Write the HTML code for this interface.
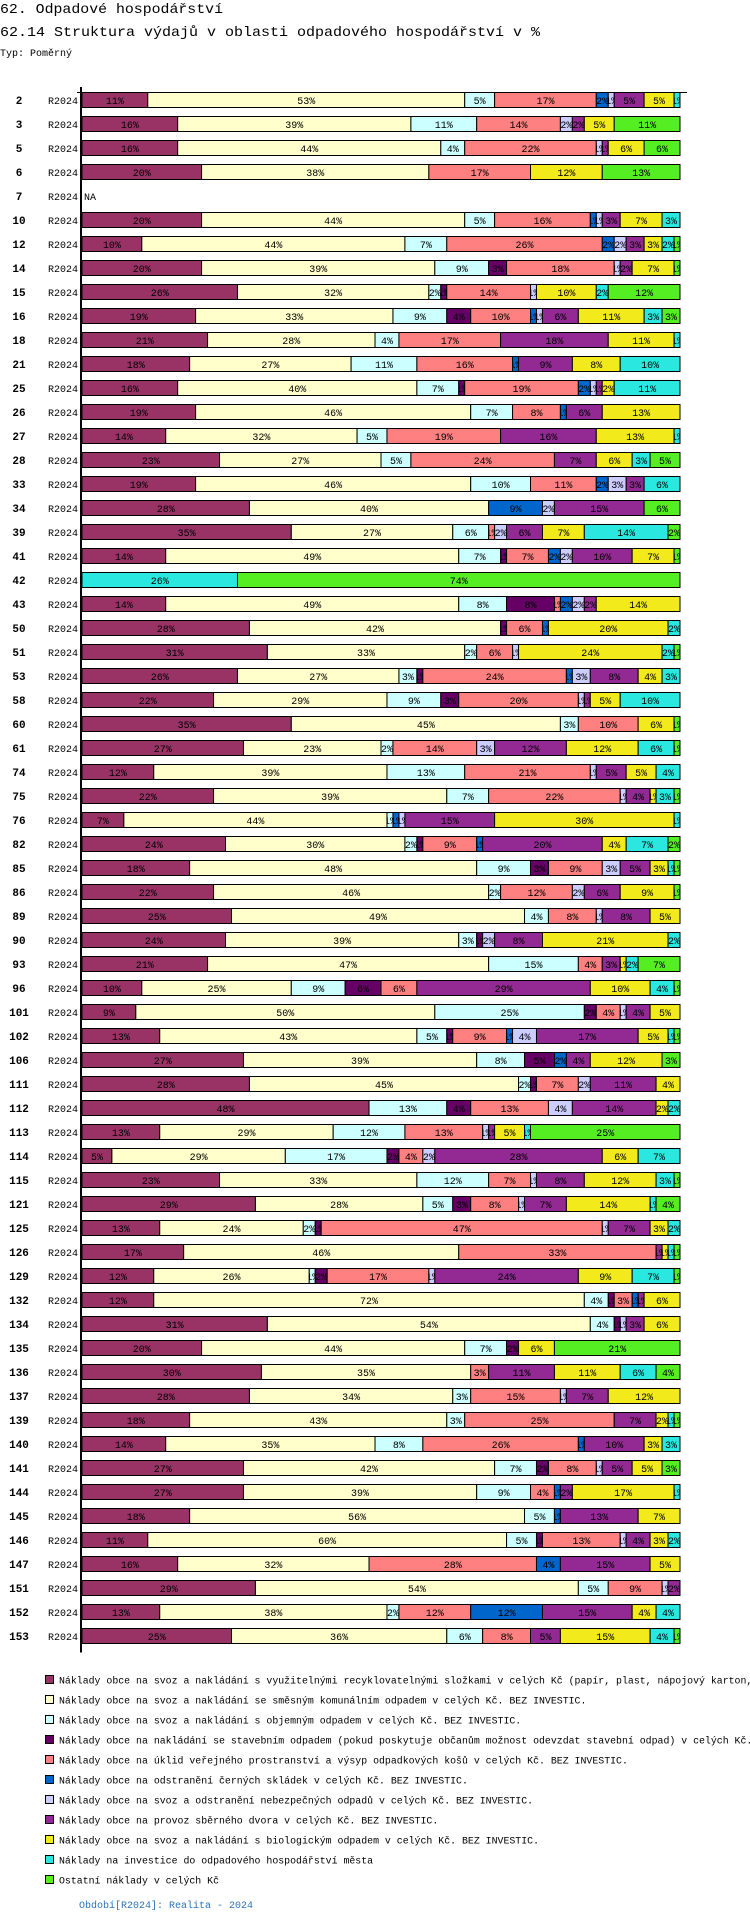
<!DOCTYPE html>
<html><head><meta charset="utf-8">
<style>
html,body{margin:0;padding:0;background:#fff;}
body{width:750px;height:1922px;overflow:hidden;position:relative;}
svg{position:absolute;left:0;top:0;}
text{font-family:"Liberation Mono","DejaVu Sans Mono",monospace;}
</style></head>
<body>
<svg id="chart" width="750" height="1922" viewBox="0 0 750 1922" xmlns="http://www.w3.org/2000/svg">
<text x="0" y="13" font-size="14" textLength="223" lengthAdjust="spacingAndGlyphs">62. Odpadové hospodářství</text>
<text x="0" y="36" font-size="14" textLength="540" lengthAdjust="spacingAndGlyphs">62.14 Struktura výdajů v oblasti odpadového hospodářství v %</text>
<text x="0" y="56" font-size="10" textLength="72" lengthAdjust="spacingAndGlyphs">Typ: Poměrný</text>
<g id="bars"></g>
<g id="legend"></g>
<text x="79" y="1908" font-size="10" fill="#2a72b8" textLength="174" lengthAdjust="spacingAndGlyphs">Období[R2024]: Realita - 2024</text>
</svg>
<script>
const colors=["#993366","#FFFFCC","#CCFFFF","#660066","#FF8080","#0066CC","#CCCCFF","#932A93","#F2EA1B","#2AE8E0","#55EE22"];
const seriesNames=["Náklady obce na svoz a nakládání s využitelnými recyklovatelnými složkami v celých Kč (papír, plast, nápojový karton, sklo, kovy). BEZ INVESTIC.",
"Náklady obce na svoz a nakládání se směsným komunálním odpadem v celých Kč.  BEZ INVESTIC.",
"Náklady obce na svoz a nakládání s objemným odpadem v celých Kč.  BEZ INVESTIC.",
"Náklady obce na nakládání se stavebním odpadem (pokud poskytuje občanům možnost odevzdat stavební odpad) v celých Kč.  BEZ INVESTIC.",
"Náklady obce na úklid veřejného prostranství a výsyp odpadkových košů v celých Kč.  BEZ INVESTIC.",
"Náklady obce na odstranění černých skládek v celých Kč.  BEZ INVESTIC.",
"Náklady obce na svoz a odstranění nebezpečných odpadů v celých Kč.  BEZ INVESTIC.",
"Náklady obce na provoz sběrného dvora v celých Kč.  BEZ INVESTIC.",
"Náklady obce na svoz a nakládání s biologickým odpadem v celých Kč.  BEZ INVESTIC.",
"Náklady na investice do odpadového hospodářství města",
"Ostatní náklady v celých Kč"];
const categories=["2","3","5","6","7","10","12","14","15","16","18","21","25","26","27","28","33","34","39","41","42","43","50","51","53","58","60","61","74","75","76","82","85","86","89","90","93","96","101","102","106","111","112","113","114","115","121","125","126","129","132","134","135","136","137","139","140","141","144","145","146","147","151","152","153"];
const values=[
[11,53,5,0,17,2,1,5,5,1,0],[16,39,11,0,14,0,2,2,5,0,11],[16,44,4,0,22,0,1,1,6,0,6],[20,38,0,0,17,0,0,0,12,0,13],null,
[20,44,5,0,16,1,1,3,7,3,0],[10,44,7,0,26,2,2,3,3,2,1],[20,39,9,3,18,0,1,2,7,0,1],[26,32,2,1,14,0,1,0,10,2,12],[19,33,9,4,10,1,1,6,11,3,3],
[21,28,4,0,17,0,0,18,11,1,0],[18,27,11,0,16,1,0,9,8,10,0],[16,40,7,1,19,2,1,1,2,11,0],[19,46,7,0,8,1,0,6,13,0,0],[14,32,5,0,19,0,0,16,13,1,0],
[23,27,5,0,24,0,0,7,6,3,5],[19,46,10,0,11,2,3,3,0,6,0],[28,40,0,0,0,9,2,15,0,0,6],[35,27,6,0,1,0,2,6,7,14,2],[14,49,7,1,7,2,2,10,7,0,1],
[0,0,0,0,0,0,0,0,0,26,74],[14,49,8,8,1,2,2,2,14,0,0],[28,42,0,1,6,1,0,0,20,2,0],[31,33,2,0,6,0,1,0,24,2,1],[26,27,3,1,24,1,3,8,4,3,0],
[22,29,9,3,20,0,1,1,5,10,0],[35,45,3,0,10,0,0,0,6,0,1],[27,23,2,0,14,0,3,12,12,6,1],[12,39,13,0,21,0,1,5,5,4,0],[22,39,7,0,22,0,1,4,1,3,1],
[7,44,1,0,0,1,1,15,30,1,0],[24,30,2,1,9,1,0,20,4,7,2],[18,48,9,3,9,0,3,5,3,1,1],[22,46,2,0,12,0,2,6,9,0,1],[25,49,4,0,8,0,1,8,5,0,0],
[24,39,3,1,0,0,2,8,21,2,0],[21,47,15,0,4,0,0,3,1,2,7],[10,25,9,6,6,0,0,29,10,4,1],[9,50,25,2,4,0,1,4,5,0,0],[13,43,5,1,9,1,4,17,5,1,1],
[27,39,8,5,0,2,0,4,12,0,3],[28,45,2,1,7,0,2,11,4,0,0],[48,0,13,4,13,0,4,14,2,2,0],[13,29,12,0,13,0,1,1,5,1,25],[5,29,17,2,4,0,2,28,6,7,0],
[23,33,12,0,7,0,1,8,12,3,1],[29,28,5,3,8,0,1,7,14,1,4],[13,24,2,1,47,0,1,7,3,2,0],[17,46,0,0,33,0,0,1,1,1,1],[12,26,1,2,17,0,1,24,9,7,1],
[12,72,4,1,3,1,0,1,6,0,0],[31,54,4,1,0,0,1,3,6,0,0],[20,44,7,2,0,0,0,0,6,0,21],[30,35,0,0,3,0,0,11,11,6,4],[28,34,3,0,15,0,1,7,12,0,0],
[18,43,3,0,25,0,0,7,2,1,1],[14,35,8,0,26,1,0,10,3,3,0],[27,42,7,2,8,0,1,5,5,0,3],[27,39,9,0,4,1,0,2,17,1,0],[18,56,5,0,0,1,0,13,7,0,0],
[11,60,5,1,13,0,1,4,3,2,0],[16,32,0,0,28,4,0,15,5,0,0],[29,54,5,0,9,0,1,2,0,0,0],[13,38,2,0,12,12,0,15,4,4,0],[25,36,6,0,8,0,0,5,15,4,1]];
const periodLabel="R2024";

const NS="http://www.w3.org/2000/svg";
const X0=82,XW=598,Y0=92.5,PITCH=24,BH=15;
function xScale(v){return X0+v/100*XW;}
function yRow(i){return Y0+i*PITCH;}
function mk(tag,attrs,parent){const e=document.createElementNS(NS,tag);for(const k in attrs)e.setAttribute(k,attrs[k]);parent.appendChild(e);return e;}
const bars=document.getElementById('bars');
const defs=mk('defs',{},bars);
// axis
const ax=mk('line',{x1:81,y1:87,x2:81,y2:Y0+(categories.length-1)*PITCH+BH+9,stroke:'#000','stroke-width':2},bars);


const tl=mk('line',{x1:77,y1:Y0,x2:687,y2:Y0,stroke:'#000','stroke-width':1},bars);


categories.forEach((c,i)=>{
  const y=yRow(i);
  const num=mk('text',{x:19,y:y+11.5,'font-size':11,'font-weight':'bold','text-anchor':'middle'},bars);
  num.textContent=c;
  
  
  const per=mk('text',{x:78,y:y+11.5,'font-size':10,'text-anchor':'end'},bars);
  per.textContent=periodLabel;
  
  
  const v=values[i];
  if(!v){
    const na=mk('text',{x:84,y:y+11.5,'font-size':10},bars);
    na.textContent='NA';
    
    
    return;
  }
  const tot=v.reduce((a,b)=>a+b,0);
  let acc=0;
  v.forEach((val,k)=>{
    if(!val)return;
    const xa=xScale(acc/tot*100),xb=xScale((acc+val)/tot*100);acc+=val;
    const r=mk('rect',{x:xa,y:y,width:xb-xa,height:BH,fill:colors[k],stroke:'#000','stroke-width':1},bars);
    
    
    const cid='c'+i+'_'+k;
    const cp=mk('clipPath',{id:cid},defs);
    mk('rect',{x:xa,y:y,width:xb-xa,height:BH},cp);
    const t=mk('text',{x:(xa+xb)/2,y:y+11.5,'font-size':10,'text-anchor':'middle','clip-path':'url(#'+cid+')'},bars);
    t.textContent=val+'%';
    
    
  });
});
const lg=document.getElementById('legend');
seriesNames.forEach((n,k)=>{
  const y=1675+k*20;
  const g=mk('g',{},lg);
  
  
  const s=mk('rect',{x:45.5,y:y+0.5,width:8,height:8,fill:colors[k],stroke:'#000','stroke-width':1},g);
  
  
  const t=mk('text',{x:59,y:y+8.5,'font-size':9.9},g);
  t.textContent=n;
  
  
});
</script>
</body></html>
